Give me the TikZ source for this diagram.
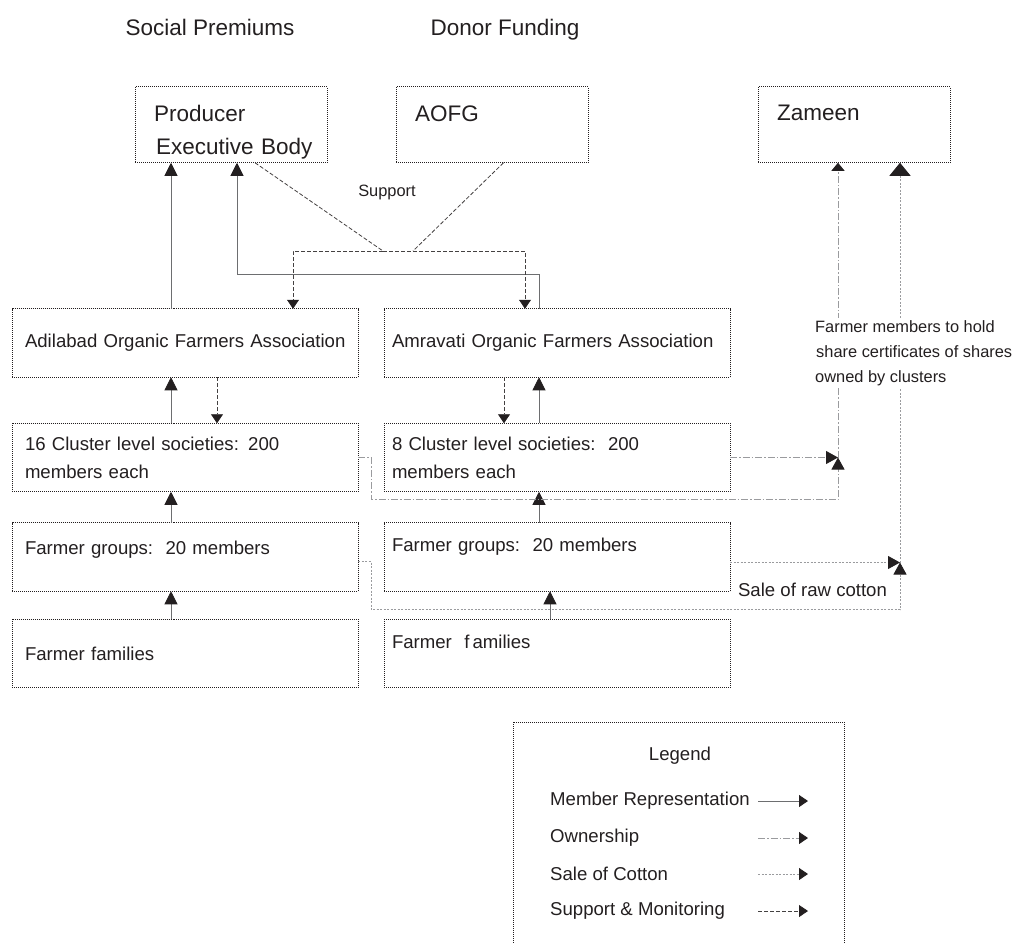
\documentclass[tikz,border=0pt]{standalone}
\usepackage{fontspec}
\setmainfont{Liberation Sans}
\usetikzlibrary{positioning,arrows.meta}

\newcommand{\bigtxt}{\fontsize{22.5}{33}\selectfont}
\newcommand{\midtxt}{\fontsize{18.6}{28}\selectfont}
\newcommand{\smalltxt}{\fontsize{16.4}{25}\selectfont}

\definecolor{inkgray}{HTML}{231F20}
\definecolor{linegray}{HTML}{6D6E70}
\definecolor{palegray}{HTML}{9A9B9E}

\tikzset{
	orgbox/.style={draw=inkgray, line width=0.9pt, dash pattern=on 1pt off 1pt,
		outer sep=0pt, inner sep=0pt, align=left, text=inkgray},
	topbox/.style={orgbox, font=\bigtxt, minimum width=192pt, minimum height=76pt, text width=154pt},
	leftbox/.style={orgbox, font=\midtxt, minimum width=346pt, minimum height=68.5pt, text width=320pt},
	rightbox/.style={orgbox, font=\midtxt, minimum width=346pt, minimum height=68.5pt, text width=330pt},
	plain/.style={text=inkgray, inner sep=0pt},
	member/.style={draw=linegray, line width=0.9pt, -{Triangle[length=13pt,width=13pt,color=inkgray]}},
	support/.style={draw=inkgray!85, line width=0.8pt, dash pattern=on 4pt off 2pt,
		-{Triangle[length=9pt,width=12pt,color=inkgray]}},
	supportline/.style={support, -},
	ownership/.style={draw=palegray, line width=0.9pt, dash pattern=on 7pt off 2pt on 1.5pt off 2pt,
		-{Triangle[length=12pt,width=13pt,color=inkgray]}},
	sale/.style={draw=palegray, line width=0.9pt, dash pattern=on 2pt off 1.5pt,
		-{Triangle[length=12pt,width=13pt,color=inkgray]}}
}

\begin{document}
\begin{tikzpicture}[x=1pt, y=1pt]
	\useasboundingbox (0,0) rectangle (1015,-943);
	% funding sources
	\node[plain, font=\bigtxt, anchor=base] (social) at (210,-35) {Social Premiums};
	\node[plain, font=\bigtxt, anchor=base] (donor) at (505,-35) {Donor Funding};

	% associations and their members
	\node[leftbox] (adb) at (185,-343) {\mbox{Adilabad Organic Farmers Association}};
	\node[rightbox, right=26pt of adb] (amr) {\mbox{Amravati Organic Farmers Association}};
	\node[leftbox, below=46pt of adb] (cl16) {16 Cluster level societies: 200\\members each};
	\node[rightbox, right=26pt of cl16] (cl8) {8 Cluster level societies:\ \ 200\\members each};
	\node[leftbox, below=31pt of cl16, text depth=18pt] (gr16) {Farmer groups:\ \ 20 members};
	\node[rightbox, right=26pt of gr16, text depth=24pt] (gr8) {Farmer groups:\ \ 20 members};
	\node[leftbox, below=28pt of gr16] (fam16) {Farmer families};
	\node[rightbox, right=26pt of fam16, text depth=24pt] (fam8) {Farmer\ \ f\,amilies};

	% top level bodies
	\node[topbox, above right=146pt and 123pt of adb.north west, text depth=23.5pt] (prod) {Producer\\\hspace*{2pt}\mbox{Executive Body}};
	\node[topbox, right=69pt of prod, text depth=21.5pt] (aofg) {AOFG};
	\node[topbox, right=170pt of aofg, text depth=23.5pt] (zam) {Zameen};

	% member representation
	\draw[member] ([xshift=-14pt]adb.north) -- ([xshift=-14pt]adb.north |- prod.south);
	\draw[member] ([xshift=-18pt]amr.north) -- ++(0,34) -| ([xshift=6pt]prod.south);
	\draw[member] ([xshift=-14pt]cl16.north) -- ([xshift=-14pt]adb.south);
	\draw[member] ([xshift=-14pt]gr16.north) -- ([xshift=-14pt]cl16.south);
	\draw[member] ([xshift=-14pt]fam16.north) -- ([xshift=-14pt]gr16.south);
	\draw[member] ([xshift=-18pt]cl8.north) -- ([xshift=-18pt]amr.south);
	\draw[member] ([xshift=-18pt]gr8.north) -- ([xshift=-18pt]cl8.south);
	\draw[member] ([xshift=-7pt]fam8.north) -- ([xshift=-7pt]gr8.south);

	% support
	\coordinate (supl) at (383,-251);
	\coordinate (supr) at (413,-251);
	\draw[supportline] ([xshift=24pt]prod.south) -- (supl);
	\draw[supportline] ([xshift=11.5pt]aofg.south) -- (supr);
	\draw[supportline] (supl) -- (supr);
	\draw[support] (supl) -| ([xshift=108pt]adb.north);
	\draw[support] (supr) -| ([xshift=-32pt]amr.north);
	\node[plain, font=\smalltxt] (suplbl) at (387,-192) {Support};
	\draw[support] ([xshift=32pt]adb.south) -- ([xshift=32pt]cl16.north);
	\draw[support] ([xshift=-53pt]amr.south) -- ([xshift=-53pt]cl8.north);

	% ownership of Zameen
	\coordinate (ownj) at ([xshift=108pt]cl8.east);
	\draw[ownership] (cl16.east) -- ++(13,0) |- ([yshift=-42pt]ownj) -- (ownj);
	\draw[ownership] (cl8.east) -- (ownj);
	\draw[ownership, -{Triangle[length=8pt,width=13pt,color=inkgray]}] (ownj) -- (ownj |- zam.south);

	% sale of cotton
	\coordinate (salej) at ([xshift=170pt,yshift=-5.5pt]gr8.east);
	\draw[sale] ([yshift=-4.5pt]gr16.east) -- ++(13,0) |- ([yshift=-47pt]salej) -- (salej);
	\draw[sale] ([yshift=-5.5pt]gr8.east) -- (salej);
	\draw[sale, -{Triangle[length=13pt,width=21pt,color=inkgray]}] (salej) -- (salej |- zam.south);
	\node[plain, font=\midtxt] (salelbl) at (812.5,-590) {Sale of raw cotton};
	\node[plain, font=\smalltxt, align=left, fill=white, inner sep=2pt, anchor=west] (sharelbl) at (813,-353)
		{Farmer members to hold\\\hspace*{1pt}share certificates of shares\\owned by clusters};

	% legend
	\node[orgbox, minimum width=331pt, minimum height=232pt, anchor=north west] (legend) at (513,-722) {};
	\node[plain, font=\midtxt] (lgtitle) at (680,-756) {Legend};
	\node[plain, font=\midtxt, anchor=west] (lgmem) at (550,-801) {Member Representation};
	\node[plain, font=\midtxt, below=37pt of lgmem.west, anchor=west] (lgown) {Ownership};
	\node[plain, font=\midtxt, below=36pt of lgown.west, anchor=west] (lgsale) {Sale of Cotton};
	\node[plain, font=\midtxt, below=37pt of lgsale.west, anchor=west] (lgsup) {Support \& Monitoring};
	\coordinate (lgx) at (758,-801);
	\draw[member, -{Triangle[length=9pt,width=12pt,color=inkgray]}] (lgmem.west -| lgx) -- ++(50,0);
	\draw[ownership, -{Triangle[length=9pt,width=12pt,color=inkgray]}] (lgown.west -| lgx) -- ++(50,0);
	\draw[sale, -{Triangle[length=9pt,width=12pt,color=inkgray]}] (lgsale.west -| lgx) -- ++(50,0);
	\draw[support] (lgsup.west -| lgx) -- ++(50,0);
\end{tikzpicture}
\end{document}
